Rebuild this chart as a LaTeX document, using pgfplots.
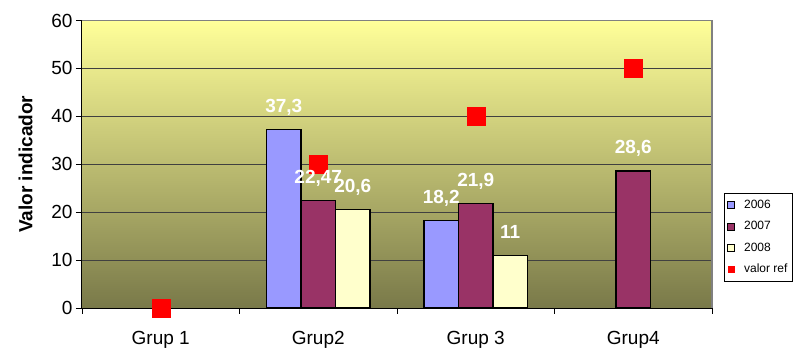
\documentclass[border=0pt]{standalone}
\usepackage{fontspec}
\setmainfont{Liberation Sans}
\usepackage{pgfplots}
\pgfplotsset{compat=1.18}
\definecolor{c2006}{RGB}{153,153,255}
\definecolor{c2007}{RGB}{153,51,102}
\definecolor{c2008}{RGB}{255,255,204}
\definecolor{bgtop}{RGB}{255,255,153}
\definecolor{bgbot}{RGB}{121,121,73}
\definecolor{bordergray}{RGB}{128,128,128}
\begin{document}
\begin{tikzpicture}
\begin{axis}[
  at={(0,0)}, anchor=south west,
  width=630bp, height=287.5bp, scale only axis,
  xmin=-0.5, xmax=3.5, ymin=0, ymax=60,
  ytick={0,10,...,60},
  xtick={0,1,2,3},
  xticklabels={Grup 1,Grup2,Grup 3,Grup4},
  minor xtick={-0.5,0.5,1.5,2.5,3.5},
  major x tick style={draw=none},
  minor x tick style={black, line width=0.8bp},
  major y tick style={black, line width=0.8bp},
  major tick length=6bp, minor tick length=6bp,
  tick align=outside,
  axis x line*=bottom, axis y line*=left,
  axis line style={-, black, line width=1bp},
  ymajorgrids, major grid style={black!75, line width=0.7bp},
  axis background/.style={top color=bgtop, bottom color=bgbot},
  clip=false,
  /pgf/number format/assume math mode=true,
  /pgf/number format/use comma,
  ticklabel style={font=\fontsize{19bp}{22bp}\selectfont},
  xticklabel style={yshift=-14bp},
  ylabel={\bfseries Valor indicador},
  ylabel style={font=\fontsize{19bp}{22bp}\selectfont, yshift=12bp},
  legend style={at={(rel axis cs:1.019,0.4)}, anchor=north west, draw=black, fill=white,
    font=\fontsize{12bp}{14bp}\selectfont, row sep=7.5bp, inner xsep=3bp, inner ysep=5bp,
    cells={anchor=west}},
  legend cell align=left,
  nodes near coords style={font=\fontsize{19bp}{22bp}\selectfont\bfseries, text=white,
    anchor=base, inner sep=0pt, yshift=17bp},
]
\draw[bordergray, line width=1.3bp] (rel axis cs:0,1) -- (rel axis cs:1,1) -- (rel axis cs:1,0);
\addplot[forget plot, only marks, mark=square*, mark size=9bp, red, mark options={fill=red, draw=none}]
  coordinates {(0,0) (1,30) (2,40) (3,50)};
\addplot[ybar, bar width=0.219, bar shift=0, fill=c2006, draw=black, line width=1.1bp,
  nodes near coords,
  legend image code/.code={\draw[fill=c2006, draw=black, line width=0.8bp] (0bp,-3.5bp) rectangle (7bp,3.5bp); \path (14bp,0bp);}]
  coordinates {(0.781,37.3) (1.781,18.2)};
\addplot[ybar, bar width=0.219, bar shift=0, fill=c2007, draw=black, line width=1.1bp,
  nodes near coords,
  legend image code/.code={\draw[fill=c2007, draw=black, line width=0.8bp] (0bp,-3.5bp) rectangle (7bp,3.5bp); \path (14bp,0bp);}]
  coordinates {(1,22.47) (2,21.9) (3,28.6)};
\addplot[ybar, bar width=0.219, bar shift=0, fill=c2008, draw=black, line width=1.1bp,
  nodes near coords,
  legend image code/.code={\draw[fill=c2008, draw=black, line width=0.8bp] (0bp,-3.5bp) rectangle (7bp,3.5bp); \path (14bp,0bp);}]
  coordinates {(1.219,20.6) (2.219,11)};
\addlegendimage{legend image code/.code={\fill[red] (0.5bp,-3bp) rectangle (6.5bp,3bp); \path (14bp,0bp);}}
\legend{2006,2007,2008,valor ref}
\end{axis}
\pgfresetboundingbox
\useasboundingbox (-82bp,-41bp) rectangle (715bp,308bp);
\end{tikzpicture}
\end{document}
